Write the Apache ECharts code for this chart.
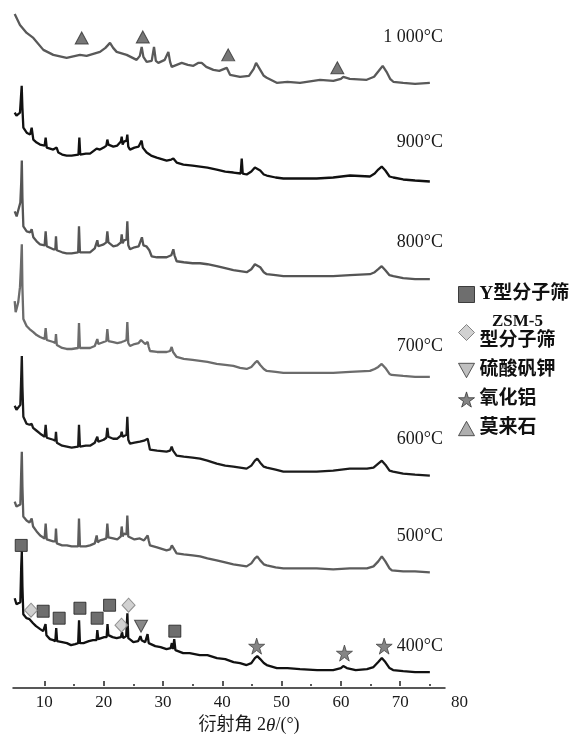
<!DOCTYPE html>
<html>
<head>
<meta charset="utf-8">
<script src="https://cdn.jsdelivr.net/npm/echarts@6/dist/echarts.min.js"></script>
<style>
  html, body { margin: 0; padding: 0; background: #fff; }
  #chart { width: 573px; height: 740px; }
</style>
</head>
<body>
<div id="chart"></div>
<script>
// 2θ (deg) / relative intensity, stacked traces
var t1000 = [[5.0,674],[5.89,663],[7.02,655],[8.14,650],[9.83,638],[11.51,633],[13.76,630],[16.0,633],[17.13,632],[19.38,636],[20.3,640],[21.07,645],[21.6,640],[22.19,636],[23.88,633],[25.56,628],[26.1,632],[26.41,641],[26.7,631],[27.25,626],[28.1,627],[28.49,641],[28.8,627],[29.22,625],[30.3,628],[30.91,636],[31.2,626],[31.47,621],[33.16,625],[34.2,623],[35.13,622],[36.0,625],[36.53,625],[37.3,621],[38.5,618],[39.5,617],[40.75,620],[41.0,622],[41.31,613],[43.0,611],[44.5,612],[45.3,619],[45.7,625],[46.3,619],[47.0,612],[47.5,610],[49.18,605],[51,606],[53.11,605],[56.48,608],[58.73,607],[60.0,609],[60.41,611],[61.5,609],[64.35,608],[65.6,611],[66.4,617],[67.05,622],[67.7,616],[68.3,609],[68.84,606],[70.5,605],[72.5,604],[75,605]];
var t900 = [[5.0,575],[5.3,572],[5.61,570],[5.89,575],[6.05,590],[6.18,602],[6.3,580],[6.46,560],[7.02,555],[7.6,553],[7.86,560],[8.14,548],[8.7,545],[9.27,543],[10.05,542],[10.22,550],[10.4,540],[10.67,539],[11.5,538],[12.07,540],[12.36,535],[13.0,533],[13.76,532],[14.6,532],[15.75,533],[15.9,550],[16.05,533],[16.29,533],[17.0,534],[17.7,534],[18.82,539],[19.38,538],[20.0,540],[20.45,542],[20.62,548],[20.8,543],[21.63,541],[22.3,542],[22.9,546],[23.04,551],[23.2,543],[23.43,546],[23.85,547],[23.99,553],[24.15,541],[24.44,538],[25.2,540],[25.9,541],[26.4,547],[26.6,540],[27.25,535],[28.0,532],[28.94,530],[30.62,527],[31.4,528],[31.75,529],[32.31,525],[33.44,523],[35,522],[36.25,521],[37.5,520],[39.06,518],[40.5,516],[41.87,515],[43.1,514],[43.28,529],[43.45,514],[44.12,513],[44.9,516],[45.5,520],[45.8,521],[46.4,517],[47.0,513],[47.5,512],[49,510],[50.3,509],[53,509],[55.92,509],[58.7,510],[61.54,512],[64.9,511],[65.7,514],[66.3,518],[66.88,521],[67.5,517],[68.2,511],[68.84,510],[70.5,508],[72.5,507],[75,506]];
var t800 = [[5.0,476],[5.33,471],[5.6,473],[5.95,485],[6.1,505],[6.2,527],[6.3,490],[6.46,461],[7.02,456],[7.6,455],[7.86,458],[8.14,450],[8.7,446],[9.27,443],[10.05,442],[10.22,456],[10.4,441],[10.67,440],[11.5,438],[11.85,438],[11.96,451],[12.1,437],[12.36,436],[13.0,435],[13.76,434],[14.6,434],[15.7,435],[15.84,461],[16.0,435],[16.29,435],[17.0,435],[17.7,435],[18.5,439],[18.93,447],[19.1,441],[19.38,441],[20.0,443],[20.45,445],[20.62,456],[20.8,445],[21.63,441],[22.3,442],[22.9,445],[23.04,453],[23.2,444],[23.43,447],[23.85,448],[23.99,466],[24.15,442],[24.44,438],[25.2,440],[25.9,441],[26.45,450],[26.7,442],[27.2,441],[27.53,443],[27.7,437],[28.09,431],[29.0,430],[30.62,430],[31.4,432],[31.75,438],[31.95,432],[32.31,426],[33.5,425],[35,424],[36.25,424],[37.5,423],[39.06,421],[40.5,419],[41.87,417],[43,416],[44.12,415],[44.9,418],[45.5,423],[45.8,425],[46.4,420],[47.0,415],[47.5,413],[49,412],[50.3,411],[53,411],[55.92,411],[58.7,411],[61.54,412],[64.9,413],[65.7,415],[66.3,418],[66.88,421],[67.5,417],[68.2,412],[68.84,411],[70.5,409],[72.5,408],[75,408]];
var t700 = [[5.0,386],[5.16,375],[5.3,378],[5.6,385],[5.89,400],[6.05,420],[6.2,443],[6.3,400],[6.46,368],[7.0,361],[7.5,358],[8.14,355],[8.7,352],[9.27,350],[10.05,348],[10.22,359],[10.4,347],[10.67,346],[11.5,345],[11.85,344],[11.96,353],[12.1,342],[12.36,341],[13.0,339],[13.76,338],[14.6,338],[15.7,339],[15.84,364],[16.0,339],[16.29,338],[17.0,339],[17.7,339],[18.5,341],[18.93,348],[19.1,343],[19.38,343],[20.0,345],[20.45,346],[20.62,358],[20.8,346],[21.63,345],[22.3,344],[23.04,345],[23.5,346],[23.85,347],[23.99,365],[24.15,344],[24.44,341],[25.2,343],[25.9,344],[26.3,347],[26.6,345],[27.0,343],[27.42,345],[27.6,340],[27.81,336],[29.0,335],[30.62,335],[31.2,336],[31.47,340],[31.7,335],[32.31,330],[33.5,328],[35,327],[36.25,326],[37.5,325],[39.06,323],[40.5,322],[41.87,321],[43,319],[44.12,318],[44.9,320],[45.5,324],[45.9,326],[46.4,322],[47.0,318],[47.5,316],[49,315],[50.3,314],[53,314],[55.92,314],[58.7,314],[61.54,315],[64.9,316],[65.7,318],[66.3,320],[66.88,323],[67.5,319],[68.2,313],[68.56,312],[70.5,311],[72.5,310],[75,310]];
var t600 = [[5.0,281],[5.3,277],[5.45,276],[5.95,282],[6.1,310],[6.2,331],[6.3,300],[6.46,270],[7.0,263],[7.5,262],[7.86,263],[8.1,259],[8.7,256],[9.3,253],[10.05,250],[10.22,262],[10.4,249],[10.7,248],[11.5,247],[11.85,246],[11.96,255],[12.1,244],[12.4,243],[13.0,241],[13.8,240],[14.6,239],[15.7,240],[15.84,262],[16.0,240],[16.3,240],[17.0,241],[17.7,241],[18.5,244],[18.93,250],[19.1,245],[19.4,245],[20.0,247],[20.45,249],[20.62,259],[20.8,250],[21.6,248],[22.3,248],[22.9,251],[23.04,255],[23.2,250],[23.43,252],[23.85,252],[23.99,270],[24.15,247],[24.44,243],[25.2,244],[26.1,245],[26.8,246],[27.42,248],[27.6,243],[27.81,237],[29.0,236],[30.6,235],[31.2,236],[31.47,240],[31.7,236],[32.3,231],[33.5,230],[35,229],[36.25,228],[37.5,226],[39.06,223],[40.5,221],[41.87,220],[43,219],[44.1,218],[44.9,221],[45.5,226],[45.9,228],[46.4,224],[47.0,220],[47.5,219],[49,217],[50.3,215],[53,215],[55.9,215],[58.7,216],[61.5,218],[64.4,218],[65.5,219],[66.3,223],[66.9,226],[67.5,222],[68.2,216],[68.8,215],[70.5,213],[72.5,212],[75,211]];
var t500 = [[5.0,185],[5.3,180],[5.6,178],[5.95,182],[6.1,215],[6.2,235],[6.3,200],[6.45,170],[7.0,166],[7.5,164],[7.86,168],[8.1,160],[8.7,155],[9.3,151],[10.05,148],[10.22,163],[10.4,147],[10.7,146],[11.5,145],[11.85,145],[11.96,158],[12.1,143],[12.4,143],[13.0,141],[13.8,141],[14.6,140],[15.7,140],[15.84,168],[16.0,140],[16.3,140],[17.0,140],[17.7,141],[18.5,143],[18.82,151],[19.0,144],[19.4,146],[20.0,147],[20.45,148],[20.62,163],[20.8,149],[21.6,148],[22.3,147],[22.9,150],[23.04,160],[23.2,150],[23.43,153],[23.85,152],[23.99,171],[24.15,150],[24.44,148],[25.2,147],[26.1,148],[26.8,146],[27.42,151],[27.6,146],[27.81,141],[29.0,139],[30.6,136],[31.2,137],[31.5,141],[31.75,143],[31.9,137],[32.3,133],[33.5,132],[35,131],[36.25,130],[37.5,128],[39.06,126],[40.5,124],[41.87,122],[43,121],[44.1,120],[44.9,123],[45.5,128],[45.9,130],[46.4,126],[47.0,122],[47.5,121],[49,119],[50.3,118],[53,118],[55.9,118],[58.7,117],[61.5,118],[64.4,118],[65.5,120],[66.3,125],[66.9,130],[67.5,125],[68.2,118],[68.6,116],[70.5,115],[72.5,115],[75,114]];
var t400 = [[5.0,88],[5.3,82],[5.6,80],[5.95,84],[6.1,120],[6.2,135],[6.3,100],[6.45,72],[7.0,68],[7.5,67],[8.1,63],[8.6,60],[9.3,57],[9.8,55],[10.05,53],[10.2,62],[10.35,51],[10.95,47],[11.5,46],[11.85,45],[12.0,58],[12.15,45],[13.0,44],[13.8,43],[14.5,41],[15.2,42],[15.7,43],[15.85,66],[16.0,43],[16.6,43],[17.5,45],[18.2,46],[18.8,46],[18.93,56],[19.1,47],[19.4,47],[20.1,49],[20.5,49],[20.65,62],[20.8,51],[21.5,49],[22.2,48],[22.9,49],[23.1,54],[23.3,48],[23.8,50],[24.0,73],[24.15,48],[24.6,46],[25.0,44],[25.8,45],[26.2,50],[26.4,46],[27.0,44],[27.4,52],[27.6,43],[27.8,41],[28.7,40],[29.6,39],[30.6,37],[31.3,38],[31.5,43],[31.7,37],[31.9,47],[32.1,36],[33.4,33],[34.5,33],[36.2,31],[37.5,31],[39.1,28],[40.5,27],[41.9,24],[43.0,23],[44.1,21],[44.9,23],[45.5,28],[45.9,30],[46.4,27],[47.0,23],[47.5,21],[49.2,18],[51,18],[53.1,17],[56,16],[58.7,16],[60,18],[60.4,20],[61,18],[62.5,16],[64.4,17],[65.5,19],[66.3,24],[66.9,28],[67.5,24],[68.2,18],[68.8,16],[70.5,15],[72.5,14],[75,14]];

var traces = [t1000, t900, t800, t700, t600, t500, t400];
var tempNames = ['1 000°C', '900°C', '800°C', '700°C', '600°C', '500°C', '400°C'];

// phase markers (2θ, height)
var yZeolite = [[6.1,141],[9.8,75],[12.5,68],[16.0,78],[18.9,68],[21.0,81],[32.0,55]];
var zsm5 = [[7.75,76],[24.2,81],[23.0,61]];
var alunite = [[26.3,60]];
var alumina = [[45.8,40],[60.6,33],[67.3,40]];
var mullite = [[16.3,650],[26.6,651],[41.0,633],[59.4,620]];

var phaseNames = ['Y型分子筛', 'ZSM-5型分子筛', '硫酸矾钾', '氧化铝', '莫来石'];

var xLabelValues = [10, 20, 30, 40, 50, 60, 70, 80];
var xMajorTicks = [10, 20, 30, 40, 50, 60, 70];
var xMinorTicks = [15, 25, 35, 45, 55, 65, 75];

var lineColors = ['#595959', '#111111', '#555555', '#6c6c6c', '#1b1b1b', '#5c5c5c', '#111111'];
var labelY = [38, 143, 243, 347, 440, 537, 647];

var STAR = 'path://M50,0 L61,35 L98,35 L68,57 L79,91 L50,70 L21,91 L32,57 L2,35 L39,35 Z';
var DOWN = 'path://M0,0 L20,0 L10,18 Z';
var UP = 'path://M10,0 L20,18 L0,18 Z';

var serif = "'Liberation Serif', 'Times New Roman', 'Noto Sans CJK SC', serif";

var chart = echarts.init(document.getElementById('chart'));

var series = traces.map(function (d, i) {
  return {
    name: tempNames[i],
    type: 'line',
    data: d,
    showSymbol: false,
    silent: true,
    lineStyle: { color: lineColors[i], width: 2.3 },
    z: 2
  };
});

function markers(name, data, symbol, size, fill, border) {
  return {
    name: name,
    type: 'scatter',
    data: data,
    symbol: symbol,
    symbolSize: size,
    silent: true,
    itemStyle: { color: fill, borderColor: border, borderWidth: 1 },
    z: 5
  };
}

series.push(markers(phaseNames[0], yZeolite, 'rect', 12, '#4a4a4a', '#1e1e1e'));
series.push(markers(phaseNames[1], zsm5, 'diamond', [13, 14], '#c6c6c6', '#7a7a7a'));
series.push(markers(phaseNames[2], alunite, DOWN, [13, 12], '#6a6a6a', '#333'));
series.push(markers(phaseNames[3], alumina, STAR, 16, '#666666', '#444'));
series.push(markers(phaseNames[4], mullite, UP, [13, 12], '#555555', '#333'));

var graphics = tempNames.map(function (t, i) {
  return {
    type: 'text',
    right: 130,
    top: labelY[i] - 10,
    style: { text: t, fill: '#1a1a1a', font: '18px ' + serif }
  };
});

chart.setOption({
  animation: false,
  grid: [
    { left: 14.7, right: 113.5, top: 8, bottom: 52 },
    { left: 13, right: 128, top: 8, bottom: 52 }
  ],
  xAxis: [
    {
      type: 'value', min: 5, max: 80, position: 'bottom',
      splitLine: { show: false },
      axisLine: { show: false },
      axisTick: { inside: true, length: 5, customValues: xMajorTicks, lineStyle: { color: '#222', width: 1.5 } },
      axisLabel: { customValues: xLabelValues, margin: 8, color: '#1a1a1a', fontSize: 17, fontFamily: serif },
      name: '衍射角 2{i|θ}/(°)',
      nameLocation: 'middle',
      nameGap: 30,
      nameTextStyle: {
        color: '#1a1a1a', fontSize: 18, fontFamily: serif, padding: [0, 0, 0, 24],
        rich: { i: { fontStyle: 'italic', fontSize: 19, fontFamily: serif, color: '#1a1a1a' } }
      }
    },
    {
      type: 'value', min: 5, max: 80, position: 'bottom',
      splitLine: { show: false },
      axisLine: { show: false },
      axisLabel: { show: false },
      axisTick: { inside: true, length: 2, customValues: xMinorTicks, lineStyle: { color: '#222', width: 1.5 } }
    },
    {
      type: 'value', gridIndex: 1, min: 0, max: 1, position: 'bottom',
      splitLine: { show: false },
      axisTick: { show: false },
      axisLabel: { show: false },
      axisLine: { show: true, lineStyle: { color: '#222', width: 1.5 } }
    }
  ],
  yAxis: [
    { type: 'value', min: 0, max: 680, show: false },
    { type: 'value', gridIndex: 1, min: 0, max: 1, show: false }
  ],
  legend: {
    orient: 'vertical',
    left: 453,
    top: 279,
    itemGap: 8,
    itemWidth: 16,
    itemHeight: 16,
    selectedMode: false,
    data: [
      { name: phaseNames[0], itemStyle: { color: '#4a4a4a', borderColor: '#1e1e1e', borderWidth: 1 } },
      { name: phaseNames[1], itemStyle: { color: '#c6c6c6', borderColor: '#6a6a6a', borderWidth: 1 } },
      { name: phaseNames[2], itemStyle: { color: '#b0b0b0', borderColor: '#333', borderWidth: 1 } },
      { name: phaseNames[3], itemStyle: { color: '#666666', borderColor: '#333', borderWidth: 1 } },
      { name: phaseNames[4], itemStyle: { color: '#9a9a9a', borderColor: '#333', borderWidth: 1 } }
    ],
    formatter: function (n) {
      return n === phaseNames[1] ? '{z|ZSM-5}\n{c|型分子筛}' : n;
    },
    textStyle: {
      color: '#111', fontSize: 19, fontWeight: 'bold', fontFamily: serif, lineHeight: 21,
      rich: {
        z: { align: 'center', fontSize: 17, fontWeight: 'bold', fontFamily: serif, color: '#111', lineHeight: 18 },
        c: { fontSize: 19, fontWeight: 'bold', fontFamily: serif, color: '#111', lineHeight: 21 }
      }
    }
  },
  graphic: graphics,
  series: series
});
</script>
</body>
</html>
